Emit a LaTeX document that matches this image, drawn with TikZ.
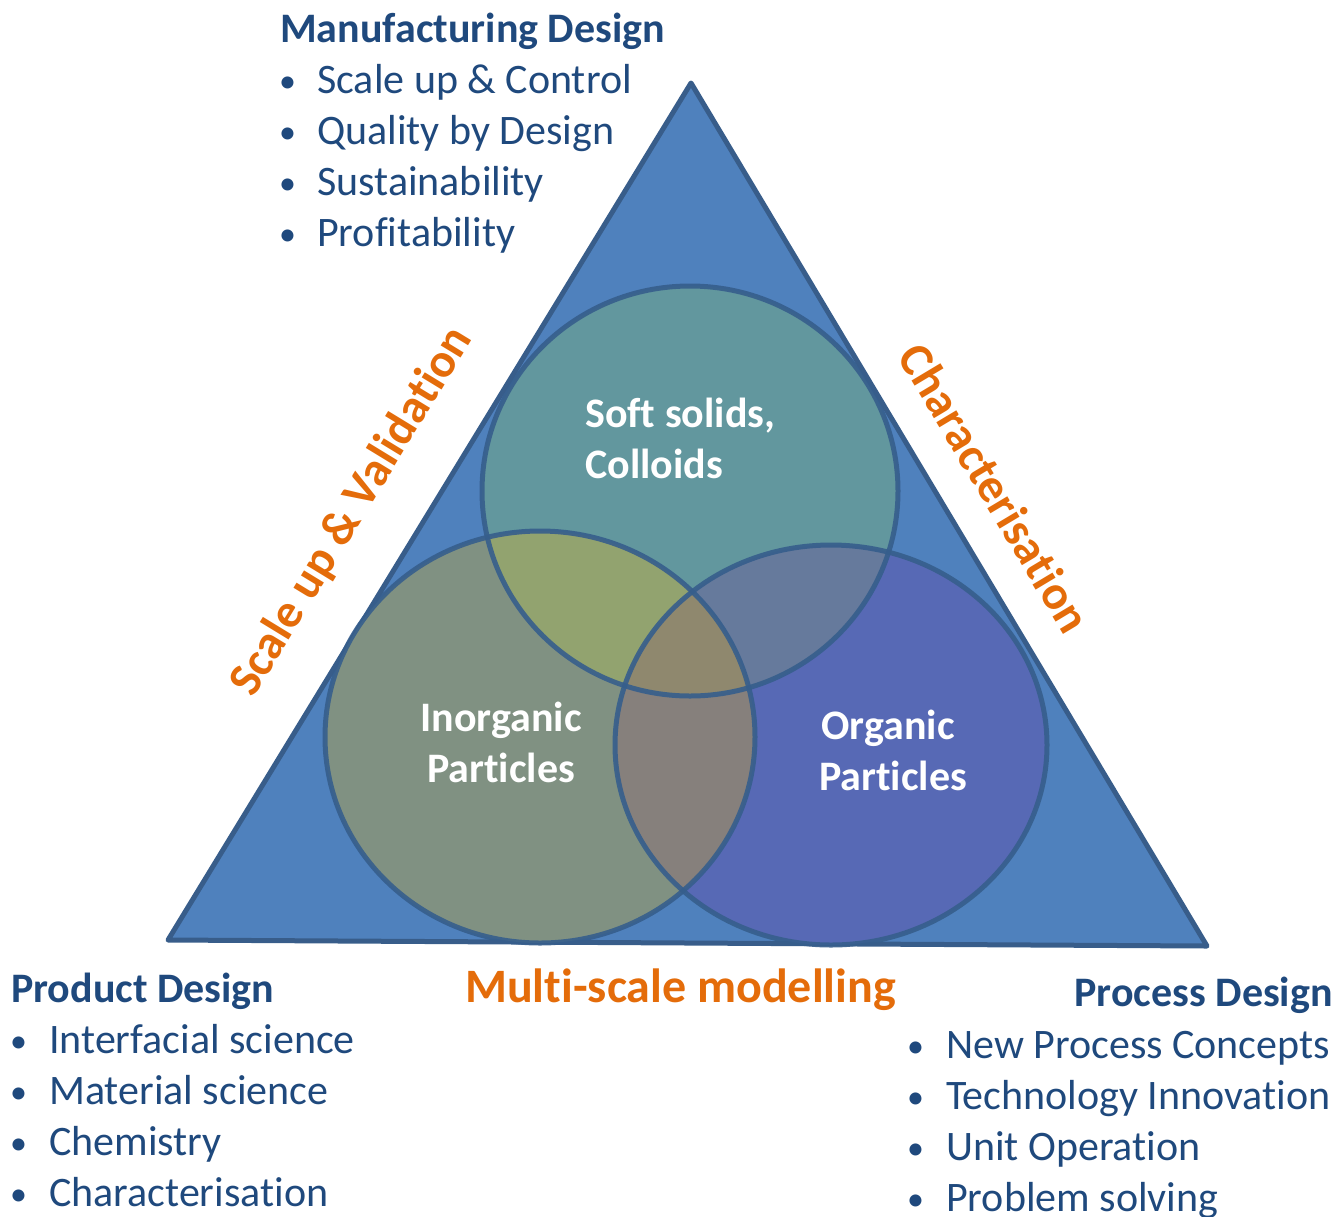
\documentclass[tikz,border=0pt]{standalone}
\usepackage{fontspec}
\setmainfont[Ligatures={NoCommon}]{Carlito}
\definecolor{hdblue}{HTML}{1F497D}
\definecolor{orangelbl}{HTML}{E46C0A}
\definecolor{trifill}{HTML}{4F81BD}
\definecolor{tristroke}{HTML}{385D8A}
\definecolor{cT}{HTML}{62979E}
\definecolor{cL}{HTML}{809182}
\definecolor{cR}{HTML}{5769B5}
\definecolor{cTL}{HTML}{92A36F}
\definecolor{cTR}{HTML}{667A9C}
\definecolor{cLR}{HTML}{86807C}
\definecolor{cTLR}{HTML}{8F886E}
\definecolor{ringcol}{HTML}{365E8C}
\tikzset{
  heading/.style={font=\fontsize{42}{51}\selectfont\bfseries, text=hdblue, inner sep=0pt},
  item/.style={font=\fontsize{42}{51}\selectfont, text=hdblue, inner sep=0pt, anchor=base west},
  bulletmark/.style={font=\fontsize{34}{51}\selectfont, text=hdblue, inner sep=0pt, anchor=base west},
  edgelabel/.style={font=\fontsize{48}{51}\selectfont\bfseries, text=orangelbl, inner sep=0pt},
  circlelabel/.style={font=\fontsize{42}{51}\selectfont\bfseries, text=white, inner sep=0pt},
  ring/.style={draw=ringcol, draw opacity=0.9, line width=5pt}
}
\begin{document}
\begin{tikzpicture}[x=1pt,y=-1pt]
\useasboundingbox (0,0) rectangle (1337,1216);
% triangle
\coordinate (apex) at (691,83);
\coordinate (bl) at (168,940);
\coordinate (br) at (1207,946);
\filldraw[fill=trifill, draw=tristroke, line width=5pt, line join=round] (apex) -- (bl) -- (br) -- cycle;
% circle centres
\coordinate (cT) at (690,491);
\coordinate (cL) at (540,737);
\coordinate (cR) at (831,745);
\def\ellT{(cT) ellipse [x radius=208pt, y radius=205pt]}
\def\ellL{(cL) ellipse [x radius=215pt, y radius=206pt]}
\def\ellR{(cR) ellipse [x radius=216pt, y radius=200pt]}
\fill[cL] \ellL;
\fill[cR] \ellR;
\fill[cT] \ellT;
\begin{scope}\clip \ellT; \fill[cTL] \ellL; \end{scope}
\begin{scope}\clip \ellT; \fill[cTR] \ellR; \end{scope}
\begin{scope}\clip \ellL; \fill[cLR] \ellR; \end{scope}
\begin{scope}\clip \ellT; \clip \ellL; \fill[cTLR] \ellR; \end{scope}
\draw[ring] \ellT;
\draw[ring] \ellL;
\draw[ring] \ellR;
% circle labels
\node[circlelabel, anchor=base west] (soft1) at (585,427) {Soft solids,};
\node[circlelabel, anchor=base west] (soft2) at (585,478) {Colloids};
\node[circlelabel, anchor=base] (inorg1) at (501,731) {Inorganic};
\node[circlelabel, anchor=base] (inorg2) at (501,782) {Particles};
\node[circlelabel, anchor=base] (org1) at (888,739) {Organic};
\node[circlelabel, anchor=base] (org2) at (893,790) {Particles};
% edge labels
\node[edgelabel, rotate=58.6] (scaleval) at (352,512) {Scale up \& Validation};
\node[edgelabel, rotate=-59.1] (charact) at (995,488) {Characterisation};
\node[edgelabel, anchor=base west] (multi) at (465,1002) {Multi-scale modelling};
% Manufacturing design
\node[heading, anchor=base west] (mhead) at (280,42) {Manufacturing Design};
\foreach \t [count=\i] in {Scale up \& Control, Quality by Design, Sustainability, Profitability}{
  \node[bulletmark] (mb\i) at (279,{41+51*\i}) {•};
  \node[item] (mi\i) at (317,{42+51*\i}) {\t};
}
% Product design
\node[heading, anchor=base west] (phead) at (11,1002) {Product Design};
\foreach \t [count=\i] in {Interfacial science, Material science, Chemistry, Characterisation}{
  \node[bulletmark] (pb\i) at (10,{1001+51*\i}) {•};
  \node[item] (pi\i) at (49,{1002+51*\i}) {\t};
}
% Process design
\node[heading, anchor=base east] (rhead) at (1333,1006) {Process Design};
\foreach \t [count=\i] in {New Process Concepts, Technology Innovation, Unit Operation, Problem solving}{
  \node[bulletmark] (rb\i) at (907,{1006+51*\i}) {•};
  \node[item] (ri\i) at (946,{1007+51*\i}) {\t};
}
\end{tikzpicture}
\end{document}
